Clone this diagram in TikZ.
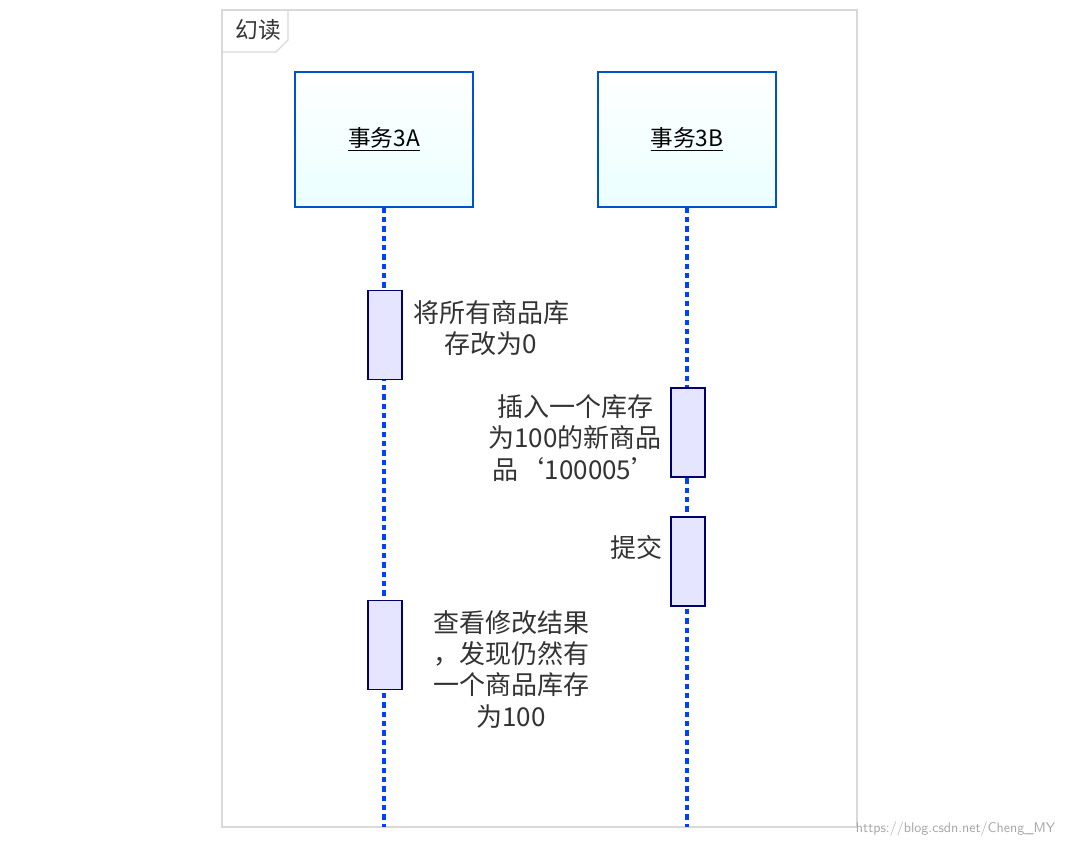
\documentclass[tikz,border=0pt]{standalone}
\usepackage{fontspec}
\newfontfamily\cjk{Noto Sans CJK SC}
\begin{document}
\begin{tikzpicture}[x=0.75pt,y=-0.75pt,
  obj/.style={draw=blue!60!cyan!80!black,line width=1.2pt,top color=white,bottom color=cyan!8,minimum width=133.5pt,minimum height=101pt,inner sep=0pt,font=\cjk\fontsize{17}{20}\selectfont},
  act/.style={draw=blue!45!black,line width=1.1pt,fill=blue!10,minimum width=25.5pt,minimum height=67pt,inner sep=0pt},
  life/.style={draw=blue!75!cyan,line width=3.5pt,dash pattern=on 4pt off 3pt},
  lbl/.style={font=\cjk\fontsize{19.5}{23.5}\selectfont,text=black!80,align=center,inner sep=0pt}]
\useasboundingbox (0,0) rectangle (1069,847);
\fill[white] (0,0) rectangle (1069,847);
\draw[black!15,line width=1.2pt] (222,10) rectangle (857,827);
\draw[black!15,line width=1pt] (222,52) -- (276,52) -- (288,40) -- (288,10);
\node[font=\cjk\fontsize{17}{20}\selectfont,text=black!80,anchor=center] (title) at (258,30) {幻读};
\node[obj] (A) at (384,139.5) {\underline{事务3A}};
\node[obj] (B) at (687,139.5) {\underline{事务3B}};
\coordinate (Aend) at (384,827);
\coordinate (Bend) at (687,827);
\draw[life] (A.south) -- (Aend);
\draw[life] (B.south) -- (Bend);
\node[act] (a1) at (385,335) {};
\node[act] (b1) at (688,432.5) {};
\node[act] (b2) at (688,561.5) {};
\node[act] (a2) at (385,645) {};
\node[lbl] (t1) at (491,328) {将所有商品库\\存改为0};
\node[lbl] (t2) at (575,438) {插入一个库存\\为100的新商品\\品‘100005’};
\node[lbl] (t3) at (636,548) {提交};
\node[lbl,text width=170pt] (t4) at (511,669) {查看修改结果\\，发现仍然有\\一个商品库存\\为100};
\node[font=\sffamily\fontsize{10.5}{12}\selectfont,text=black!35,anchor=east] (wm) at (1060,829) {https://blog.csdn.net/Cheng\_MY};
\end{tikzpicture}
\end{document}
